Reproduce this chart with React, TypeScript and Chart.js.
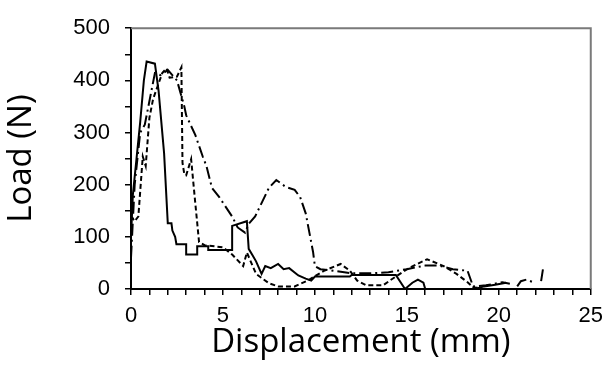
import React, { useEffect, useRef } from "react";
import { Chart, registerables } from "chart.js";

Chart.register(...registerables);

// Solid specimen
const solidX = [0, 0.1, 0.3, 0.5, 0.7, 0.85, 1.3, 1.5, 1.8, 2.0, 2.2, 2.25, 2.4, 2.47, 3.0, 3.0, 3.6, 3.6, 4.2, 4.2, 5.5, 5.5, 6.3, 6.4, 6.6, 6.8, 7.1, 7.3, 7.6, 8.0, 8.3, 8.6, 9.1, 9.5, 9.8, 10.0, 11.9, 12.0, 14.4, 14.9, 15.3, 15.6, 15.9, 16.0, 18.7, 19.2, 19.8, 20.4];
const solidY = [100, 180, 250, 320, 400, 436, 432, 380, 260, 126, 126, 112, 100, 86, 86, 66, 66, 82, 82, 75, 75, 121, 130, 77, 65, 53, 29, 44, 40, 48, 38, 40, 26, 20, 16, 24, 24, 27, 27, 0, 12, 18, 12, 0, 0, 5, 8, 12];

// Dashed specimen
const dashX = [0, 0.2, 0.4, 0.64, 0.8, 1.0, 1.2, 1.7, 1.93, 2.1, 2.5, 2.74, 2.8, 2.9, 3.0, 3.27, 3.4, 3.7, 4.0, 5.0, 5.5, 6.1, 6.3, 6.8, 7.5, 8.0, 8.9, 9.6, 10.5, 11.4, 11.9, 12.3, 12.8, 13.7, 14.4, 15.1, 16.1, 17.0, 17.7, 18.3, 18.6, 19.0];
const dashY = [140, 130, 139, 254, 236, 328, 364, 414, 423, 405, 407, 425, 242, 220, 218, 249, 200, 90, 84, 80, 66, 44, 70, 29, 11, 5, 5, 16, 35, 48, 35, 16, 7, 7, 24, 40, 57, 44, 29, 13, 3, 2];

// Dash-dot specimen
const dotX = [0, 0.2, 0.5, 0.75, 1.3, 1.6, 2.0, 2.5, 2.9, 3.0, 3.5, 3.9, 4.1, 4.4, 4.8, 5.5, 5.8, 6.2, 6.4, 6.75, 7.5, 7.9, 8.4, 8.9, 9.2, 9.5, 9.7, 9.9, 10.0, 10.3, 11, 12, 13, 14, 15, 16, 16.7, 17.5, 18.3, 18.6, 19.3, 20.2, 20.6, 20.8, 21.0, 21.2, 21.5, 21.8, 22.0, 22.3, 22.4];
const dotY = [60, 200, 300, 315, 414, 410, 420, 400, 350, 333, 295, 254, 236, 194, 176, 139, 118, 108, 125, 139, 194, 209, 196, 190, 176, 145, 108, 71, 44, 38, 35, 30, 30, 32, 38, 45, 45, 38, 35, 5, 7, 13, 10, null, 5, 15, 18, 14, null, 15, 38];

const xTicksMajor = [0, 5, 10, 15, 20, 25];
const yTicksMajor = [0, 100, 200, 300, 400, 500];

const toPts = (xs: number[], ys: (number | null)[]) => xs.map((x, i) => ({ x, y: ys[i] }));

const framePlugin = {
  id: "frame",
  afterDraw(chart: any) {
    const { ctx, chartArea } = chart;
    const { left, top, right, bottom } = chartArea;
    ctx.save();
    ctx.strokeStyle = "#7a7a7a";
    ctx.lineWidth = 2;
    ctx.beginPath();
    ctx.moveTo(left, top);
    ctx.lineTo(right, top);
    ctx.lineTo(right, bottom);
    ctx.stroke();
    ctx.restore();
  },
};

export default function App() {
  const ref = useRef<HTMLCanvasElement>(null);
  useEffect(() => {
    document.body.style.margin = "0";
    const chart = new Chart(ref.current!, {
      type: "line",
      data: {
        datasets: [
          {
            data: toPts(solidX, solidY),
            borderColor: "#000",
            borderWidth: 2,
            pointRadius: 0,
            tension: 0,
          },
          {
            data: toPts(dashX, dashY),
            borderColor: "#000",
            borderWidth: 2,
            borderDash: [5, 3],
            pointRadius: 0,
            tension: 0,
          },
          {
            data: toPts(dotX, dotY),
            borderColor: "#000",
            borderWidth: 2,
            borderDash: [12, 4, 2, 4],
            pointRadius: 0,
            tension: 0,
            spanGaps: false,
          },
        ],
      },
      options: {
        animation: false,
        responsive: false,
        parsing: false as any,
        layout: { padding: { top: 16, right: 14, left: 0, bottom: 0 } },
        plugins: { legend: { display: false }, tooltip: { enabled: false } },
        scales: {
          x: {
            type: "linear",
            min: 0,
            max: 25,
            afterFit(scale: any) {
              scale.height = 78;
            },
            border: { color: "#000", width: 2 },
            grid: { drawOnChartArea: false, drawTicks: true, tickLength: 6, color: "#000", lineWidth: 1.5 },
            ticks: {
              stepSize: 1,
              autoSkip: false,
              maxRotation: 0,
              padding: 8,
              color: "#000",
              font: { family: "'Liberation Sans', Arial, sans-serif", size: 22 },
              callback: (v: any) => (xTicksMajor.includes(Number(v)) ? String(v) : ""),
            },
            title: {
              display: true,
              text: "Displacement (mm)",
              color: "#000",
              font: { family: "'Open Sans', sans-serif", size: 33 },
              padding: { top: 0, bottom: 5 },
            },
          },
          y: {
            type: "linear",
            min: 0,
            max: 500,
            afterFit(scale: any) {
              scale.width = 131;
            },
            border: { color: "#000", width: 2 },
            grid: { drawOnChartArea: false, drawTicks: true, tickLength: 6, color: "#000", lineWidth: 1.5 },
            ticks: {
              stepSize: 50,
              autoSkip: false,
              padding: 15,
              color: "#000",
              font: { family: "'Liberation Sans', Arial, sans-serif", size: 22 },
              callback: (v: any) => (yTicksMajor.includes(Number(v)) ? String(v) : ""),
            },
            title: {
              display: true,
              text: "Load (N)",
              color: "#000",
              font: { family: "'Open Sans', sans-serif", size: 33 },
              padding: { top: 2, bottom: 0 },
            },
          },
        },
      },
      plugins: [framePlugin],
    });
    return () => chart.destroy();
  }, []);
  return (
    <div style={{ position: "absolute", left: 0, top: 0, width: 611, height: 367, background: "#fff" }}>
      <canvas ref={ref} width={611} height={367} />
    </div>
  );
}
